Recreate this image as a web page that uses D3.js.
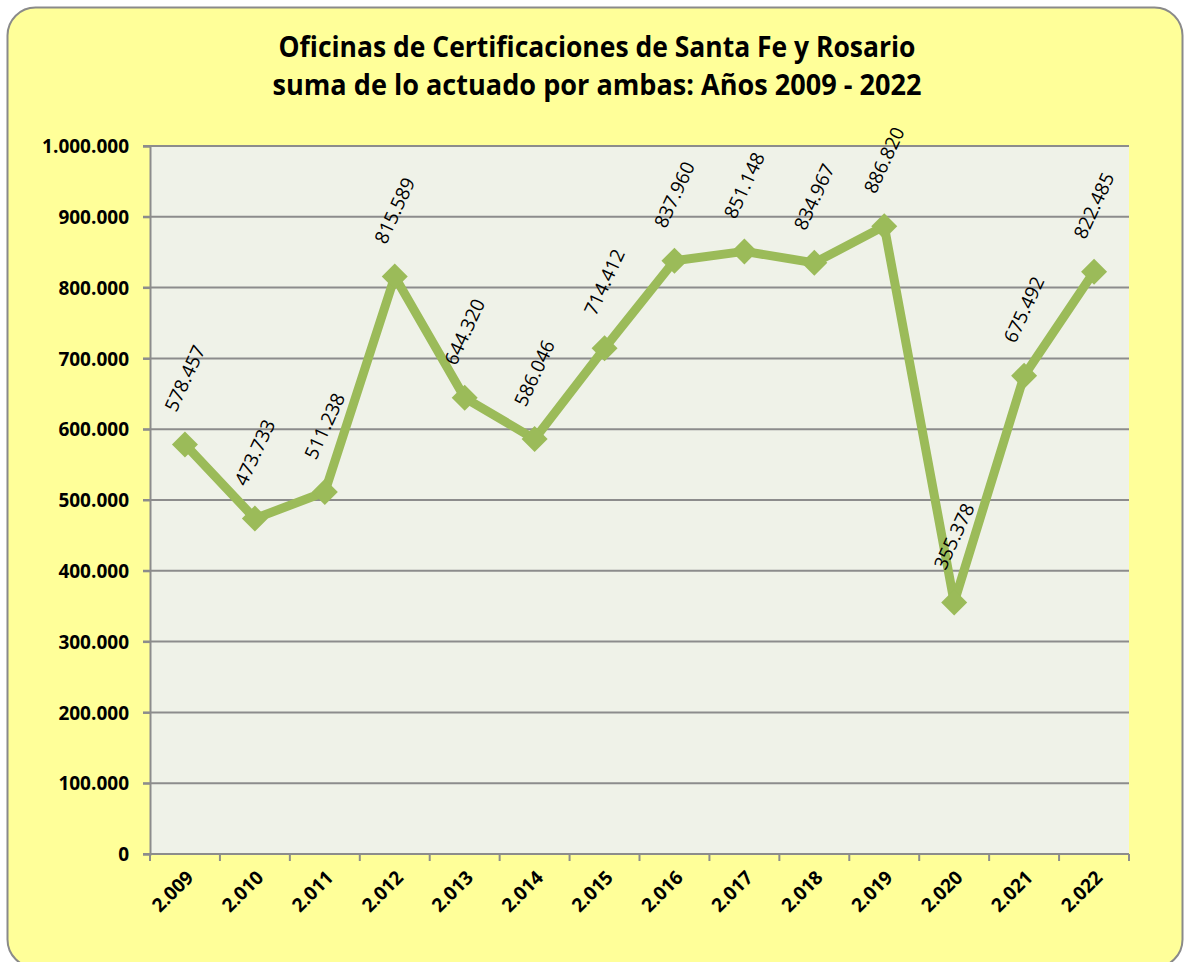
<!DOCTYPE html>
<html><head><meta charset="utf-8">
<script src="https://cdn.jsdelivr.net/npm/d3@7"></script>
<style>html,body{margin:0;padding:0;background:#fff;}svg{display:block;}</style>
</head><body>
<script>
const years = ["2.009","2.010","2.011","2.012","2.013","2.014","2.015","2.016","2.017","2.018","2.019","2.020","2.021","2.022"];
const values = [578457,473733,511238,815589,644320,586046,714412,837960,851148,834967,886820,355378,675492,822485];
const valueLabels = ["578.457","473.733","511.238","815.589","644.320","586.046","714.412","837.960","851.148","834.967","886.820","355.378","675.492","822.485"];
const yTicks = [0,100000,200000,300000,400000,500000,600000,700000,800000,900000,1000000];
const yTickLabels = ["0","100.000","200.000","300.000","400.000","500.000","600.000","700.000","800.000","900.000","1.000.000"];
const titleLines = ["Oficinas de Certificaciones de Santa Fe y Rosario","suma de lo actuado por ambas: Años 2009 - 2022"];

const W = 1185, H = 962;
const svg = d3.select("body").append("svg").attr("width", W).attr("height", H);
const font = "'Open Sans', sans-serif";

svg.append("rect").attr("x",7.5).attr("y",7.5).attr("width",1175).attr("height",960)
  .attr("rx",28).attr("ry",28).attr("fill","#FFFF99").attr("stroke","#8a8a8a").attr("stroke-width",2);

const pL = 150, pR = 1129, pT = 146, pB = 854;
const x = d3.scaleBand().domain(years).range([pL, pR]).padding(0);
const y = d3.scaleLinear().domain([0, 1000000]).range([pB, pT]);

svg.append("rect").attr("x",pL).attr("y",pT).attr("width",pR-pL).attr("height",pB-pT).attr("fill","#EFF2E8");

// gridlines
svg.append("g").selectAll("line").data(yTicks.filter(d=>d>0)).join("line")
  .attr("x1",pL-7).attr("x2",pR).attr("y1",d=>y(d)).attr("y2",d=>y(d))
  .attr("stroke","#8c8c8c").attr("stroke-width",2);

// y axis
const yAxis = d3.axisLeft(y).tickValues(yTicks).tickSize(7).tickPadding(14)
  .tickFormat((d,i)=>yTickLabels[i]);
const gy = svg.append("g").attr("transform",`translate(${pL},0)`).call(yAxis);
gy.select(".domain").attr("stroke","#8c8c8c").attr("stroke-width",2);
gy.selectAll(".tick line").attr("stroke","#8c8c8c").attr("stroke-width",2);
gy.selectAll(".tick text").attr("font-family",font).attr("font-weight","bold").attr("font-size","19px").attr("fill","#000").attr("dy","0.35em");

// x axis
const gx = svg.append("g").attr("transform",`translate(0,${pB})`);
gx.append("line").attr("x1",pL-7).attr("x2",pR).attr("y1",0).attr("y2",0).attr("stroke","#8c8c8c").attr("stroke-width",2);
const bounds = years.map(d=>x(d)).concat([pR]);
gx.selectAll("line.tk").data(bounds).join("line").attr("class","tk")
  .attr("x1",d=>d).attr("x2",d=>d).attr("y1",0).attr("y2",7).attr("stroke","#8c8c8c").attr("stroke-width",2);
gx.selectAll("text").data(years).join("text")
  .attr("transform",d=>`translate(${x(d)+x.bandwidth()/2+5},${20}) rotate(-45)`)
  .attr("text-anchor","end").attr("dy","0.35em")
  .attr("font-family",font).attr("font-weight","bold").attr("font-size","19px").attr("fill","#000")
  .text(d=>d);

// line
const cx = (d,i)=>x(years[i])+x.bandwidth()/2;
const line = d3.line().x((d,i)=>cx(d,i)).y(d=>y(d));
svg.append("path").datum(values).attr("d",line).attr("fill","none")
  .attr("stroke","#9BBB59").attr("stroke-width",9).attr("stroke-linejoin","round");
svg.append("g").selectAll("path").data(values).join("path")
  .attr("d","M0,-13L13,0L0,13L-13,0Z")
  .attr("transform",(d,i)=>`translate(${cx(d,i)},${y(d)})`)
  .attr("fill","#9BBB59");

// value labels
svg.append("g").selectAll("text").data(values).join("text")
  .attr("transform",(d,i)=>`translate(${cx(d,i)},${y(d)-66}) rotate(-65)`)
  .attr("text-anchor","middle").attr("dy","0.35em")
  .attr("font-family",font).attr("font-size","19px").attr("fill","#000")
  .text((d,i)=>valueLabels[i]);

// title
svg.append("g").selectAll("text").data(titleLines).join("text")
  .attr("x",597).attr("y",(d,i)=>57+i*38)
  .attr("text-anchor","middle")
  .attr("font-family",font).attr("font-weight","bold").attr("font-size","29px").attr("fill","#000")
  .attr("textLength",(d,i)=>i===0?637:649).attr("lengthAdjust","spacingAndGlyphs")
  .text(d=>d);
</script>
</body></html>
